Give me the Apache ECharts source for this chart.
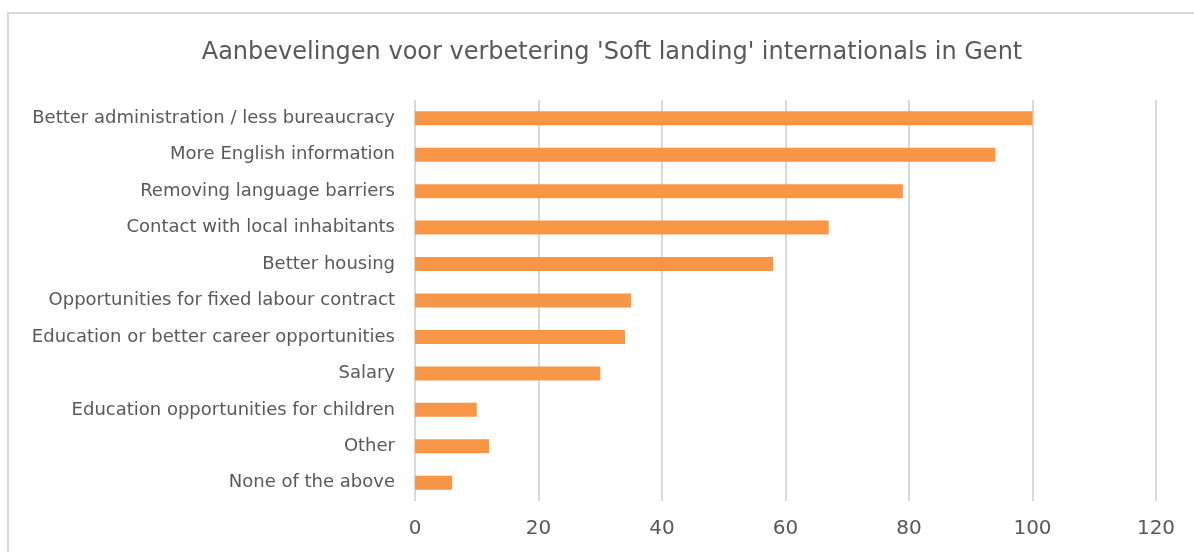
<!DOCTYPE html>
<html>
<head>
<meta charset="utf-8">
<script src="https://cdn.jsdelivr.net/npm/echarts@6/dist/echarts.min.js"></script>
<style>html,body{margin:0;padding:0;background:#fff}#c{width:1194px;height:552px}</style>
</head>
<body>
<div id="c"></div>
<script>
const titleText = "Aanbevelingen voor verbetering 'Soft landing' internationals in Gent";
const categories = [
  "Better administration / less bureaucracy",
  "More English information",
  "Removing language barriers",
  "Contact with local inhabitants",
  "Better housing",
  "Opportunities for fixed labour contract",
  "Education or better career opportunities",
  "Salary",
  "Education opportunities for children",
  "Other",
  "None of the above"
];
const values = [100, 94, 79, 67, 58, 35, 34, 30, 10, 12, 6];
const xMin = 0, xMax = 120, xInterval = 20;

const font = "DejaVu Sans";
const chart = echarts.init(document.getElementById('c'), null, {renderer: 'canvas'});
chart.setOption({
  animation: false,
  backgroundColor: '#ffffff',
  title: {
    text: titleText,
    left: 607, textAlign: 'center',
    top: 36,
    textStyle: {fontFamily: font, fontSize: 24, fontWeight: 'normal', color: '#595959'}
  },
  graphic: [{
    type: 'rect',
    shape: {x: 8, y: 13, width: 1200, height: 600},
    style: {fill: null, stroke: '#D9D9D9', lineWidth: 2},
    silent: true
  }],
  grid: {left: 415, right: 38, top: 100, bottom: 51, containLabel: false},
  xAxis: {
    type: 'value', min: xMin, max: xMax, interval: xInterval,
    axisLine: {show: false}, axisTick: {show: false},
    splitLine: {show: true, lineStyle: {color: '#D9D9D9', width: 2}},
    axisLabel: {fontFamily: font, fontSize: 20, color: '#595959', margin: 18}
  },
  yAxis: {
    type: 'category', data: categories, inverse: true,
    axisLine: {show: false}, axisTick: {show: false},
    axisLabel: {fontFamily: font, fontSize: 18, color: '#595959', margin: 20}
  },
  series: [{
    type: 'bar', data: values, barWidth: 14,
    itemStyle: {color: '#F79646'}
  }]
});
</script>
</body>
</html>
